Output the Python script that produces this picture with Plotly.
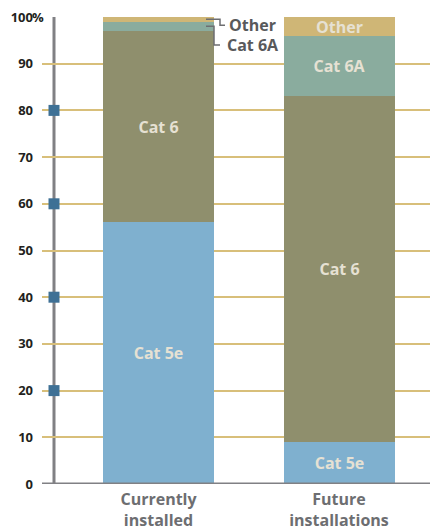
import plotly.graph_objects as go

categories = ["Currently<br>installed", "Future<br>installations"]
series = ["Cat 5e", "Cat 6", "Cat 6A", "Other"]
cat5e = [56, 9]
cat6 = [41, 74]
cat6a = [2, 13]
other = [1, 4]
ytick_vals = [0, 10, 20, 30, 40, 50, 60, 70, 80, 90, 100]
ytick_text = ["0", "10", "20", "30", "40", "50", "60", "70", "80", "90", "100"]
marker_vals = [20, 40, 60, 80]

colors = {"Cat 5e": "#7fb0cf", "Cat 6": "#8f8f6d", "Cat 6A": "#8aac9e", "Other": "#cfb676"}
values = {"Cat 5e": cat5e, "Cat 6": cat6, "Cat 6A": cat6a, "Other": other}
# which bars show inside labels
show_inside = {"Cat 5e": [True, True], "Cat 6": [True, True], "Cat 6A": [False, True], "Other": [False, True]}

FONT = "Open Sans"
xpos = [0, 1]

# pixel helpers (x: center of bar0 at 158.5px, 180.5px per unit)
def ux(px):
    return (px - 158.5) / 180.5

fig = go.Figure()
for s in series:
    fig.add_trace(go.Bar(
        x=xpos, y=values[s], name=s, width=0.615,
        marker=dict(color=colors[s], line=dict(width=0)),
        text=[s if f else "" for f in show_inside[s]],
        textposition="inside", insidetextanchor="middle",
        textfont=dict(family=FONT, size=16, color="#e6e1d3", weight="bold"),
        hoverinfo="skip",
    ))

# axis markers
fig.add_trace(go.Scatter(
    x=[ux(54)] * len(marker_vals), y=marker_vals, mode="markers",
    marker=dict(symbol="square", size=11, color="#3e7095", line=dict(width=0)),
    hoverinfo="skip", cliponaxis=False,
))

shapes = []
# vertical axis line
shapes.append(dict(type="line", xref="x", yref="y", x0=ux(54), x1=ux(54), y0=0, y1=100,
                   line=dict(color="#808084", width=3), layer="below"))
# baseline
shapes.append(dict(type="line", xref="paper", yref="y", x0=0, x1=1, y0=0, y1=0,
                   line=dict(color="#808084", width=3)))

# leader lines for first bar
other_mid = cat5e[0] + cat6[0] + cat6a[0] + other[0] / 2
c6a_mid = cat5e[0] + cat6[0] + cat6a[0] / 2
lc = dict(color="#6d6e71", width=1.5)
ypp = 467 / 100.0
y_other_lab = other_mid - 6 / ypp
y_c6a_lab = 94.0
path1 = f"M {ux(206)},{other_mid} L {ux(220)},{other_mid} L {ux(220)},{y_other_lab} L {ux(225)},{y_other_lab}"
path2 = f"M {ux(206)},{c6a_mid} L {ux(214)},{c6a_mid} L {ux(214)},{y_c6a_lab} L {ux(220)},{y_c6a_lab}"
shapes.append(dict(type="path", xref="x", yref="y", path=path1, line=lc))
shapes.append(dict(type="path", xref="x", yref="y", path=path2, line=lc))

annotations = [
    dict(x=ux(227), y=y_other_lab, xref="x", yref="y", text="Other", showarrow=False,
         xanchor="left", yanchor="middle", font=dict(family=FONT, size=16, color="#58595b", weight="bold")),
    dict(x=ux(225), y=y_c6a_lab, xref="x", yref="y", text="Cat 6A", showarrow=False,
         xanchor="left", yanchor="middle", font=dict(family=FONT, size=16, color="#58595b", weight="bold")),
    dict(x=(32 - 42) / 388.0, y=100, xref="paper", yref="y", text="%", showarrow=False,
         xanchor="left", yanchor="middle", xshift=-2,
         font=dict(family=FONT, size=13, color="#231f20", weight="bold")),
]

fig.update_layout(
    width=430, height=532,
    margin=dict(l=42, r=0, t=17, b=48),
    barmode="stack", bargap=0,
    showlegend=False,
    paper_bgcolor="white", plot_bgcolor="white",
    shapes=shapes, annotations=annotations,
    uniformtext=dict(minsize=16, mode="show"),
    xaxis=dict(range=[ux(42), ux(430)], tickvals=xpos, ticktext=categories,
               showgrid=False, zeroline=False, showline=False, ticks="",
               ticklabelstandoff=4, automargin=False,
               tickfont=dict(family=FONT, size=16, color="#6d6e71", weight="bold"),
               fixedrange=True),
    yaxis=dict(range=[0, 100], tickvals=ytick_vals, ticktext=ytick_text,
               showgrid=True, gridcolor="#d8bf7a", gridwidth=1.5,
               zeroline=False, showline=False, ticks="",
               ticklabelstandoff=8, automargin=False,
               tickfont=dict(family=FONT, size=13, color="#231f20", weight="bold"),
               fixedrange=True),
)

fig.write_html("out.html")
